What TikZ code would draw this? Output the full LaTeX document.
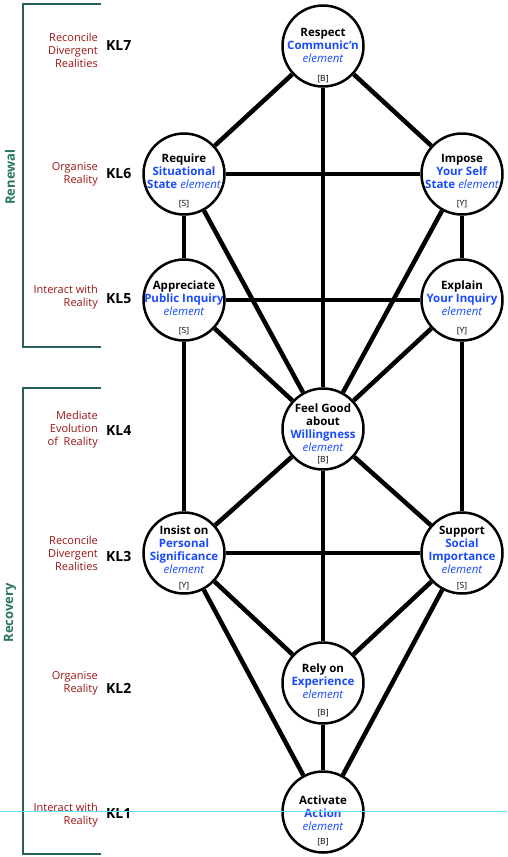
\documentclass[tikz,border=0pt]{standalone}
\usepackage{fontspec}
\setmainfont{Open Sans}
\usepackage{tikz}
\definecolor{elemblue}{RGB}{25,75,255}
\definecolor{levelred}{RGB}{155,20,20}
\definecolor{phasegreen}{RGB}{40,120,85}
\definecolor{bracketteal}{RGB}{40,95,95}
\definecolor{guidecyan}{RGB}{100,225,255}
\newcommand{\blu}[1]{\textcolor{elemblue}{\textbf{#1}}}
\newcommand{\elm}{\textcolor{elemblue}{\mdseries\itshape element}}
\tikzset{
  elem/.style={circle, draw, fill=white, line width=2.5pt, minimum size=81pt, inner sep=0pt},
  elemtext/.style={align=center, font=\fontsize{11.5}{13}\selectfont\bfseries, inner sep=0pt},
  tagtext/.style={font=\fontsize{8.5}{10}\selectfont, inner sep=0pt},
  link/.style={line width=4.5pt},
  level/.style={anchor=west, font=\fontsize{14}{16}\selectfont\bfseries, inner sep=0pt},
  leveltext/.style={anchor=east, align=right, text=levelred, font=\fontsize{11}{13}\selectfont, inner sep=0pt},
  phase/.style={rotate=90, text=phasegreen, font=\fontsize{13}{15}\selectfont\bfseries, inner sep=0pt},
  bracket/.style={draw=bracketteal, line width=2.5pt}
}

\begin{document}
\begin{tikzpicture}[x=1pt,y=-1pt]
\useasboundingbox (0,0) rectangle (507,857);

\node[elem] (respect) at (323,46) {};
\node[elem] (require) at (184,174) {};
\node[elem] (impose) at (462,174) {};
\node[elem] (appreciate) at (184,300) {};
\node[elem] (explain) at (462,300) {};
\node[elem] (feelgood) at (323,429) {};
\node[elem] (insist) at (184,553) {};
\node[elem] (support) at (462,553) {};
\node[elem] (rely) at (323,683) {};
\node[elem] (activate) at (323,812) {};

\draw[link] (respect) -- (require);
\draw[link] (respect) -- (impose);
\draw[link] (respect) -- (feelgood);
\draw[link] (require) -- (impose);
\draw[link] (require) -- (appreciate);
\draw[link] (require) -- (feelgood);
\draw[link] (impose) -- (explain);
\draw[link] (impose) -- (feelgood);
\draw[link] (appreciate) -- (explain);
\draw[link] (appreciate) -- (feelgood);
\draw[link] (explain) -- (feelgood);
\draw[link] (appreciate) -- (insist);
\draw[link] (explain) -- (support);
\draw[link] (feelgood) -- (insist);
\draw[link] (feelgood) -- (support);
\draw[link] (feelgood) -- (rely);
\draw[link] (insist) -- (support);
\draw[link] (insist) -- (rely);
\draw[link] (insist) -- (activate);
\draw[link] (support) -- (rely);
\draw[link] (support) -- (activate);
\draw[link] (rely) -- (activate);

\node[elemtext] at ([yshift=1pt]respect.center) {Respect\\ \blu{Communic'n}\\ \elm};
\node[tagtext] at ([yshift=-33pt]respect.center) {[B]};
\node[elemtext] at ([yshift=3pt]require.center) {Require\\ \blu{Situational}\\ \blu{State} \elm};
\node[tagtext] at ([yshift=-30pt]require.center) {[S]};
\node[elemtext] at ([yshift=3pt]impose.center) {Impose\\ \blu{Your Self}\\ \blu{State} \elm};
\node[tagtext] at ([yshift=-30pt]impose.center) {[Y]};
\node[elemtext] at ([yshift=2pt]appreciate.center) {Appreciate\\ \blu{Public Inquiry}\\ \elm};
\node[tagtext] at ([yshift=-31pt]appreciate.center) {[S]};
\node[elemtext] at ([yshift=2pt]explain.center) {Explain\\ \blu{Your Inquiry}\\ \elm};
\node[tagtext] at ([yshift=-31pt]explain.center) {[Y]};
\node[elemtext] at ([yshift=1pt]feelgood.center) {Feel Good\\ about\\ \blu{Willingness}\\ \elm};
\node[tagtext] at ([yshift=-31pt]feelgood.center) {[B]};
\node[elemtext] at ([yshift=3pt]insist.center) {Insist on\\ \blu{Personal}\\ \blu{Significance}\\ \elm};
\node[tagtext] at ([yshift=-33pt]insist.center) {[Y]};
\node[elemtext] at ([yshift=3pt]support.center) {Support\\ \blu{Social}\\ \blu{Importance}\\ \elm};
\node[tagtext] at ([yshift=-33pt]support.center) {[S]};
\node[elemtext] at ([yshift=2pt]rely.center) {Rely on\\ \blu{Experience}\\ \elm};
\node[tagtext] at ([yshift=-30pt]rely.center) {[B]};
\node[elemtext] at ([yshift=-1pt]activate.center) {Activate\\ \blu{Action}\\ \elm};
\node[tagtext] at ([yshift=-30pt]activate.center) {[B]};

\node[level] (kl7) at (106,46) {KL7};
\node[level] (kl6) at (106,174) {KL6};
\node[level] (kl5) at (106,299) {KL5};
\node[level] (kl4) at (106,430) {KL4};
\node[level] (kl3) at (106,556) {KL3};
\node[level] (kl2) at (106,688) {KL2};
\node[level] (kl1) at (106,813) {KL1};

\node[leveltext] at (98,50) {Reconcile\\ Divergent\\ Realities};
\node[leveltext] at (98,174) {Organise\\ Reality};
\node[leveltext] at (98,297) {Interact with\\ Reality};
\node[leveltext] at (98,430) {Mediate\\ Evolution\\ of~ Reality};
\node[leveltext] at (98,553) {Reconcile\\ Divergent\\ Realities};
\node[leveltext] at (98,683) {Organise\\ Reality};
\node[leveltext] at (98,815) {Interact with\\ Reality};

\draw[bracket] (101,4) -- (23,4) -- (23,347) -- (101,347);
\draw[bracket] (101,388) -- (23,388) -- (23,854) -- (101,854);
\node[phase] (renewal) at (10,177) {Renewal};
\node[phase] (recovery) at (10,613) {Recovery};

\draw[guidecyan, line width=1pt] (0,811.5) -- (507,811.5);
\end{tikzpicture}
\end{document}
